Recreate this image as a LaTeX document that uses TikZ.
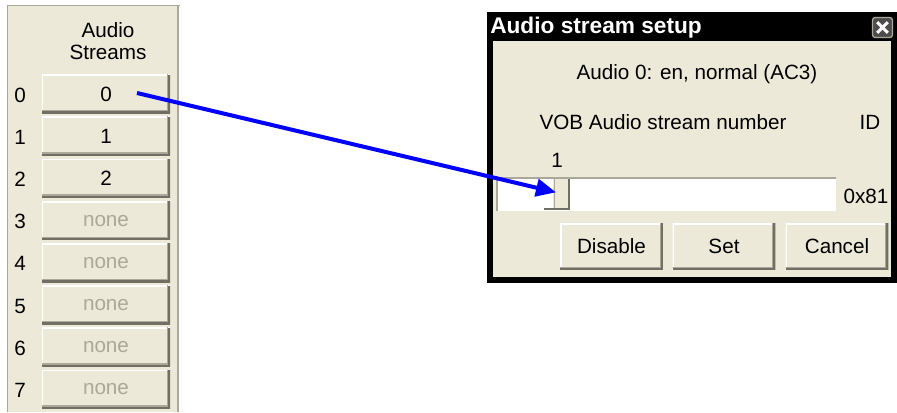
\documentclass[tikz,border=0pt]{standalone}
\usepackage{fontspec}
\setmainfont{Liberation Sans}
\usetikzlibrary{arrows.meta}
\definecolor{face}{HTML}{ECE9D8}
\definecolor{shadelight}{HTML}{ACA899}
\definecolor{shadedark}{HTML}{716F64}
\definecolor{greytext}{HTML}{ACA899}
\definecolor{arrowblue}{HTML}{0000FF}
\tikzset{
  uitext/.style={font=\fontsize{15.5}{18}\selectfont, inner sep=0pt},
  xpbtn/.style={fill=face, inner sep=0pt, font=\fontsize{15.5}{18}\selectfont,
    path picture={
      \draw[white, line width=2pt] (path picture bounding box.south west) -- (path picture bounding box.north west) -- (path picture bounding box.north east);
      \draw[shadedark, line width=3pt] (path picture bounding box.north east) -- (path picture bounding box.south east) -- (path picture bounding box.south west);
      \draw[shadelight, line width=1pt] ([xshift=-2pt,yshift=2pt]path picture bounding box.north east) -- ([xshift=-2pt,yshift=2pt]path picture bounding box.south east) -- ([xshift=-2pt,yshift=2pt]path picture bounding box.south west);
    }},
  streambtn/.style={xpbtn, minimum width=96pt, minimum height=29pt},
  dlgbtn/.style={xpbtn, minimum width=77pt, minimum height=35pt},
  pointer/.style={arrowblue, line width=3pt, -{Triangle[length=15pt, width=13pt]}}
}
\begin{document}
\begin{tikzpicture}[x=0.75pt, y=-0.75pt]
  \useasboundingbox (0,0) rectangle (897,412);
  \fill[white] (0,0) rectangle (897,412);

  % stream list panel
  \fill[face] (7,5) rectangle (180,412);
  \draw[shadelight, line width=1pt] (7.5,412) -- (7.5,5.5) -- (180,5.5);
  \draw[shadelight, line width=1pt] (178,5.5) -- (178,412);
  \draw[white, line width=1pt] (180,5.5) -- (180,412);
  \node[uitext, align=center, font=\fontsize{15.5}{16.5}\selectfont] (title) at (108,41) {Audio\\Streams};

  \foreach \i/\lbl/\col in {0/0/black, 1/1/black, 2/2/black, 3/none/greytext,
                            4/none/greytext, 5/none/greytext, 6/none/greytext, 7/none/greytext} {
    \node[uitext] (n\i) at (20,{95+42.2*\i}) {\i};
    \node[streambtn, text=\col] (b\i) at (106,{94+42.2*\i}) {\lbl};
  }

  % dialog window
  \fill[black] (487,12) rectangle (897,283);
  \fill[face] (493,41) rectangle (891,277);
  \node[anchor=west, inner sep=0pt, text=white, font=\fontsize{17}{20}\selectfont\bfseries] (dlgtitle) at (490,28) {Audio stream setup};
  \node[draw=shadelight, fill=black!70, line width=1pt, rounded corners=2pt, minimum size=15pt, inner sep=0pt] (close) at (882.5,27.5) {};
  \draw[white, line width=2.2pt] ([shift={(-4pt,4pt)}]close.center) -- ([shift={(4pt,-4pt)}]close.center)
                                 ([shift={(-4pt,-4pt)}]close.center) -- ([shift={(4pt,4pt)}]close.center);

  \node[uitext] (info) at (697,74) {Audio 0: en, normal (AC3)};
  \node[uitext] (vobhead) at (663,122) {VOB Audio stream number};
  \node[uitext] (idhead) at (870,122) {ID};
  \node[uitext] (tick) at (557,160) {1};

  % slider
  \node[fill=white, minimum width=254pt, minimum height=24.5pt, inner sep=0pt] (track) at (666.5,194.5) {};
  \draw[shadelight, line width=1.2pt] (track.south west) -- (track.north west) -- (track.north east);
  \node[fill=face, minimum width=12pt, minimum height=22pt, inner sep=0pt, anchor=north west] (thumb) at (552,179) {};
  \draw[white, line width=1pt] (thumb.south west) -- (thumb.north west);
  \draw[shadelight, line width=1pt] ([xshift=2pt]thumb.south west) -- ([xshift=2pt]thumb.north west);
  \draw[shadedark, line width=1.5pt] (thumb.north east) -- (thumb.south east) -- ([xshift=-6pt]thumb.south west);
  \node[uitext] (idval) at (866,196) {0x81};

  \node[dlgbtn] (disable) at (611.5,246.5) {Disable};
  \node[dlgbtn] (set) at (724,246.5) {Set};
  \node[dlgbtn] (cancel) at (837,246.5) {Cancel};

  % connector from stream 0 to the slider thumb
  \coordinate (from) at (137,93);
  \draw[pointer] (from) -- ([shift={(3pt,-10pt)}]thumb.north west);
\end{tikzpicture}
\end{document}
